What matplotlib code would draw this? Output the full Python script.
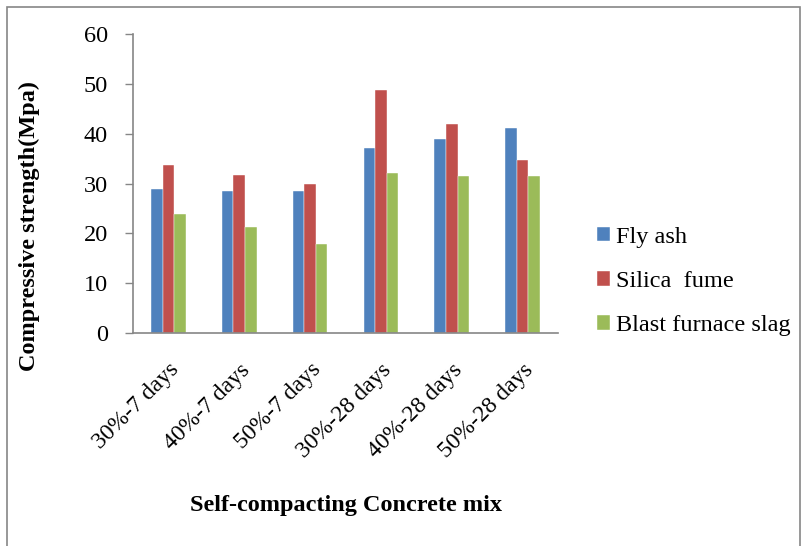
import matplotlib
matplotlib.use("Agg")
import matplotlib.pyplot as plt
import numpy as np
from matplotlib.patches import Rectangle

categories = ["30%-7 days", "40%-7 days", "50%-7 days", "30%-28 days", "40%-28 days", "50%-28 days"]
fly_ash = [28.8, 28.4, 28.4, 37.1, 39.0, 41.2]
silica_fume = [33.7, 31.8, 29.9, 48.7, 42.0, 34.8]
blast_furnace_slag = [23.9, 21.3, 17.9, 32.2, 31.5, 31.5]
series_names = ["Fly ash", "Silica  fume", "Blast furnace slag"]
yticks = [0, 10, 20, 30, 40, 50, 60]

colors = ["#4F81BD", "#C0504D", "#9BBB59"]
plt.rcParams['font.family'] = ['Liberation Serif', 'DejaVu Serif']

fig = plt.figure(figsize=(8.04, 5.46), dpi=100)
ax = fig.add_axes([0.1654, 0.3901, 0.694 - 0.1654, 0.9377 - 0.3901])

x = np.arange(len(categories))
w = 0.163
for i, (vals, name) in enumerate(zip([fly_ash, silica_fume, blast_furnace_slag], series_names)):
    ax.bar(x + (i - 1) * w, vals, width=w, color=colors[i], label=name,
           edgecolor='white', linewidth=0.3)

ax.set_xlim(-0.5, len(categories) - 0.5)
ax.set_ylim(0, 60)
ax.set_yticks(yticks)
ax.set_yticklabels([str(v) for v in yticks], fontsize=17.5)
ax.set_xticks(x)
ax.set_xticklabels(categories, rotation=45, ha='right', rotation_mode='anchor', fontsize=17)
ax.tick_params(axis='x', length=0, pad=19)
ax.tick_params(axis='y', length=6, width=1, color='#868686', pad=12)
for s in ['top', 'right']:
    ax.spines[s].set_visible(False)
for s in ['left', 'bottom']:
    ax.spines[s].set_color('#868686')
    ax.spines[s].set_linewidth(1.2)

fig.text(0.036, 0.586, "Compressive strength(Mpa)", rotation=90, ha='center', va='center',
         fontsize=17.5, fontweight='bold')
fig.text(0.43, 0.075, "Self-compacting Concrete mix", ha='center', va='center',
         fontsize=17.5, fontweight='bold')

leg = ax.legend(loc='center left', bbox_to_anchor=(1.068, 0.173), frameon=False, fontsize=17.5,
                handlelength=0.55, handleheight=0.55, handletextpad=0.25, labelspacing=0.95,
                borderaxespad=0)

fig.patches.append(Rectangle((7 / 804, -0.1), (800 - 7) / 804, 1.1 - 7 / 546,
                             transform=fig.transFigure, fill=False, edgecolor='#868686',
                             linewidth=1.2))

fig.savefig("out.png", dpi=100)
